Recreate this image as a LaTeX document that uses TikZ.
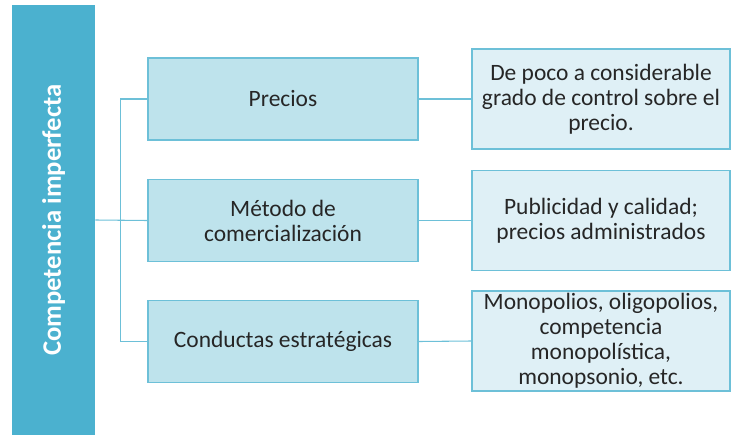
\documentclass[tikz,border=0pt]{standalone}
\usepackage{fontspec}
\setmainfont{Carlito}
\definecolor{barblue}{HTML}{4BB1CF}
\definecolor{midfill}{HTML}{BEE3EC}
\definecolor{rightfill}{HTML}{DFF0F6}
\definecolor{edgeblue}{HTML}{6DC0D8}
\definecolor{inkgray}{HTML}{262626}
\begin{document}
\begin{tikzpicture}[x=0.75pt,y=-0.75pt,
  bar/.style={fill=barblue,minimum width=322.5pt,minimum height=62.25pt,inner sep=0pt,text=white,font=\fontsize{20}{24}\selectfont\bfseries},
  midbox/.style={draw=edgeblue,fill=midfill,line width=0.8pt,minimum width=202.5pt,minimum height=61.5pt,inner sep=0pt,align=center,text=inkgray,font=\fontsize{17.6}{18.75}\selectfont},
  ansbox/.style={draw=edgeblue,fill=rightfill,line width=0.8pt,minimum width=193.5pt,minimum height=75pt,inner sep=0pt,align=center,text=inkgray,font=\fontsize{17.6}{18.75}\selectfont},
  link/.style={draw=edgeblue,line width=0.8pt}]
\useasboundingbox (0,0) rectangle (731,435);
%---left bar-------------------------------------------
\node[bar,rotate=90] (comp) at (53.5,220) {Competencia imperfecta};
%---middle column--------------------------------------
\node[midbox] (pre) at (283,99) {Precios};
\node[midbox] (met) at (283,220.5) {Método de\\comercialización};
\node[midbox] (con) at (283,341.5) {Conductas estratégicas};
%---right column---------------------------------------
\node[ansbox] (pre-a) at (601,99) {De poco a considerable\\grado de control sobre el\\precio.};
\node[ansbox] (met-a) at (601,220.5) {Publicidad y calidad;\\precios administrados};
\node[ansbox] (con-a) at (601,341) {Monopolios, oligopolios,\\competencia\\monopolística,\\monopsonio, etc.};
%---links----------------------------------------------
\draw[link] (comp.south) -- (met.west);
\draw[link] (pre.west) -- ++(-27,0) |- (con.west);
\draw[link] (pre.east) -- (pre-a.west);
\draw[link] (met.east) -- (met-a.west);
\draw[link] (con.east) -- (con-a.west);
\end{tikzpicture}
\end{document}
